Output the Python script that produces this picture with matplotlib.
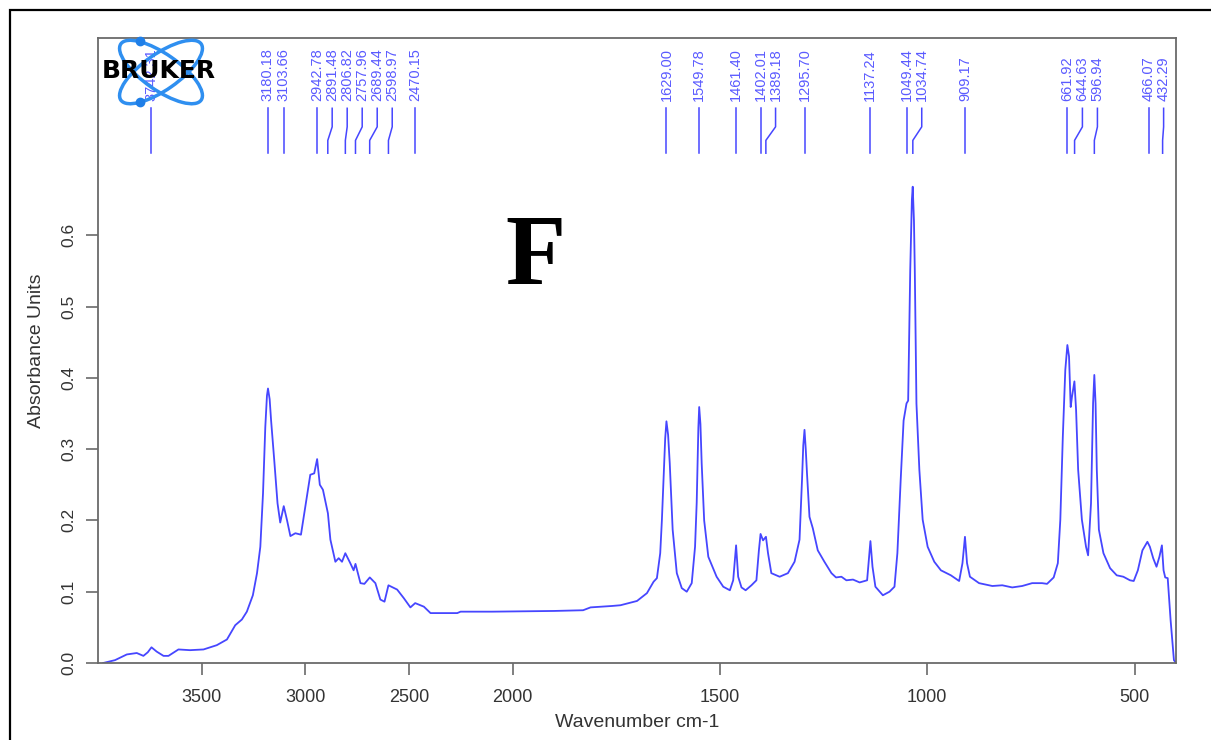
import numpy as np
import matplotlib
matplotlib.use("Agg")
import matplotlib.pyplot as plt
from matplotlib.patches import Ellipse, Rectangle

plt.rcParams['font.family'] = ['Liberation Sans', 'DejaVu Sans']

# spectrum (wavenumber cm-1, absorbance)
wavenumber = [
    3975, 3918, 3861, 3813, 3781, 3760, 3742, 3717, 3684, 3660, 3612, 3556,
    3491, 3427, 3378, 3338, 3306, 3282, 3253, 3233, 3217, 3204, 3193, 3185, 3180,
    3172, 3165, 3150, 3134, 3121, 3104, 3088, 3072, 3048, 3021, 3000, 2976, 2957,
    2943, 2930, 2915, 2891, 2879, 2855, 2839, 2823, 2807, 2783, 2767, 2758,
    2734, 2715, 2689, 2662, 2638, 2618, 2599, 2557, 2525, 2493, 2470, 2428,
    2396, 2267, 2251, 2100, 1900, 1830, 1812, 1760, 1740, 1700, 1676, 1660,
    1652, 1644, 1640, 1636, 1632, 1629, 1625, 1621, 1614, 1604, 1592, 1580, 1568,
    1560, 1556, 1552, 1550, 1547, 1544, 1538, 1528, 1508, 1492, 1476, 1468, 1461,
    1456, 1448, 1438, 1424, 1412, 1406, 1402, 1396, 1389, 1384, 1376, 1356, 1336,
    1320, 1308, 1302, 1299, 1296, 1293, 1290, 1284, 1276, 1264, 1248, 1231, 1220,
    1207, 1195, 1179, 1163, 1145, 1141, 1137, 1132, 1125, 1107, 1091, 1079, 1072,
    1064, 1057, 1050, 1046, 1041, 1037, 1035, 1032, 1030, 1026, 1019, 1011, 999,
    983, 967, 943, 923, 915, 909, 904, 897, 875, 843, 819, 795, 771, 747, 723,
    711, 695, 685, 679, 673, 667, 662, 658, 654, 651, 645, 641,
    636, 627, 617, 612, 605, 600, 597, 594, 591, 586, 575, 559,
    543, 527, 511, 502, 492, 481, 469, 463, 455, 447, 440, 434,
    430, 426, 420, 413, 405, 400,
]
absorbance = [
    0.000, 0.004, 0.012, 0.014, 0.010, 0.015, 0.022, 0.016, 0.010, 0.010, 0.019, 0.018,
    0.019, 0.025, 0.033, 0.053, 0.061, 0.072, 0.095, 0.126, 0.163, 0.238, 0.331, 0.375, 0.385,
    0.370, 0.340, 0.285, 0.224, 0.197, 0.220, 0.200, 0.178, 0.182, 0.180, 0.219, 0.264, 0.266,
    0.286, 0.250, 0.243, 0.210, 0.173, 0.142, 0.147, 0.142, 0.154, 0.140, 0.130, 0.139,
    0.112, 0.111, 0.120, 0.112, 0.089, 0.086, 0.109, 0.103, 0.091, 0.078, 0.084, 0.079,
    0.070, 0.070, 0.072, 0.072, 0.073, 0.074, 0.078, 0.080, 0.081, 0.087, 0.098, 0.114,
    0.119, 0.154, 0.200, 0.257, 0.315, 0.339, 0.320, 0.280, 0.187, 0.126, 0.105, 0.100, 0.112,
    0.163, 0.225, 0.330, 0.359, 0.335, 0.280, 0.200, 0.149, 0.121, 0.107, 0.102, 0.116, 0.165,
    0.121, 0.106, 0.102, 0.109, 0.116, 0.158, 0.181, 0.172, 0.177, 0.154, 0.126, 0.121, 0.126,
    0.142, 0.173, 0.257, 0.305, 0.327, 0.300, 0.266, 0.205, 0.189, 0.158, 0.142, 0.126, 0.120,
    0.121, 0.116, 0.117, 0.113, 0.116, 0.144, 0.171, 0.135, 0.107, 0.095, 0.100, 0.107, 0.154,
    0.257, 0.340, 0.364, 0.368, 0.551, 0.650, 0.668, 0.620, 0.551, 0.364, 0.271, 0.201, 0.163,
    0.142, 0.130, 0.123, 0.115, 0.140, 0.177, 0.140, 0.121, 0.112, 0.108, 0.109, 0.106, 0.108, 0.112, 0.112,
    0.111, 0.120, 0.140, 0.201, 0.317, 0.411, 0.446, 0.430, 0.359, 0.373, 0.395, 0.355,
    0.271, 0.201, 0.163, 0.151, 0.224, 0.364, 0.404, 0.364, 0.271, 0.187, 0.154, 0.133,
    0.123, 0.121, 0.116, 0.115, 0.130, 0.158, 0.170, 0.163, 0.147, 0.135, 0.149, 0.165,
    0.130, 0.120, 0.119, 0.060, 0.004, 0.000,
]

peak_labels = ["3742.31", "3180.18", "3103.66", "2942.78", "2891.48", "2806.82",
               "2757.96", "2689.44", "2598.97", "2470.15", "1629.00", "1549.78",
               "1461.40", "1402.01", "1389.18", "1295.70", "1137.24", "1049.44",
               "1034.74", "909.17", "661.92", "644.63", "596.94", "466.07", "432.29"]
peak_wn = [float(s) for s in peak_labels]

xticks = [3500, 3000, 2500, 2000, 1500, 1000, 500]
yticks = [0.0, 0.1, 0.2, 0.3, 0.4, 0.5, 0.6]


# OPUS style axis: region above 2000 cm-1 compressed by 2
def fwd(w):
    w = np.asarray(w, dtype=float)
    return np.where(w > 2000, 2000 + (w - 2000) / 2.0, w)


def inv(u):
    u = np.asarray(u, dtype=float)
    return np.where(u > 2000, 2000 + (u - 2000) * 2.0, u)


blue = '#4646ff'
grey = '#6a6a6a'

fig = plt.figure(figsize=(12.11, 7.40), dpi=100)
ax = fig.add_axes([98 / 1211, 77 / 740, 1078 / 1211, 625 / 740])

ax.plot(wavenumber, absorbance, color=blue, lw=1.3)
ax.set_xscale('function', functions=(fwd, inv))
ax.set_xlim(4000, 400)
ax.set_ylim(0, 0.8766)

ax.set_xticks(xticks)
ax.set_xticklabels([str(t) for t in xticks])
ax.set_yticks(yticks)
ax.set_yticklabels(["%.1f" % t for t in yticks], rotation=90, va='center')
ax.tick_params(axis='both', direction='out', length=8.5, width=1.2,
               colors=grey, labelcolor='#333333')
ax.tick_params(axis='x', pad=10, labelsize=13)
ax.tick_params(axis='y', pad=7, labelsize=12.5)
for sp in ax.spines.values():
    sp.set_color(grey)
    sp.set_linewidth(1.3)

ax.set_xlabel('Wavenumber cm-1', fontsize=14, color='#333333', labelpad=6)
ax.set_ylabel('Absorbance Units', fontsize=14, color='#333333', labelpad=12)

# peak labels, pushed apart so they do not overlap
u_peaks = fwd(peak_wn)
gap = 36.2
u_lab = []
for u in u_peaks:
    if u_lab:
        u = min(u, u_lab[-1] - gap)
    u_lab.append(u)
w_lab = inv(np.array(u_lab))

for txt, wp, wl in zip(peak_labels, peak_wn, w_lab):
    ax.plot([wl, wl, wp, wp], [0.778, 0.752, 0.733, 0.715], color=blue, lw=1.1)
    ax.text(wl, 0.788, txt, rotation=90, ha='center', va='bottom',
            fontsize=10.5, color='#5a5aff')

# panel letter
fig.text(535 / 1211, 1 - 283 / 740, 'F', fontsize=71, fontweight='bold',
         family='Liberation Serif', ha='center', va='baseline', color='black')

# Bruker logo
lax = fig.add_axes([110 / 1211, 1 - 109 / 740, 102 / 1211, 74 / 740], zorder=5)
lax.set_xlim(0, 102)
lax.set_ylim(0, 74)
lax.axis('off')
for ang in (35, -35):
    lax.add_patch(Ellipse((51, 37), 98, 36, angle=ang, fill=False,
                          ec='#2f8ff0', lw=2.5))
lax.plot([30, 30], [68, 7], 'o', color='#1f7fe8', ms=6)
fig.text(159 / 1211, 1 - 71 / 740, 'BRUKER', fontsize=18, fontweight='heavy',
         family='DejaVu Sans', ha='center', va='center', color='black', zorder=6)

# outer frame
fig.add_artist(Rectangle((10 / 1211, -0.2), 1.5, 1.2 - 10 / 740, fill=False,
                         ec='black', lw=1.6, transform=fig.transFigure))

fig.savefig('out.png', dpi=100)
